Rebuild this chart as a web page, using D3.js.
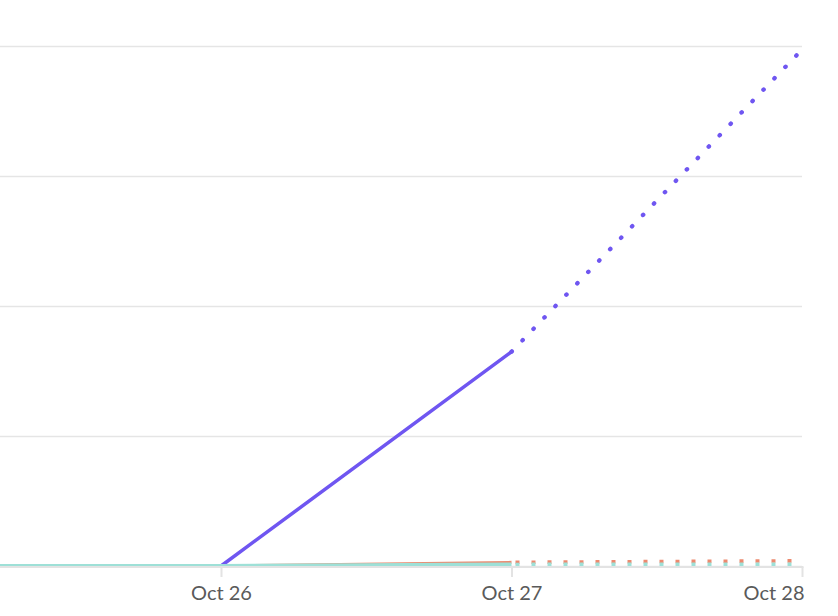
<!DOCTYPE html>
<html>
<head>
<meta charset="utf-8">
<script src="https://cdn.jsdelivr.net/npm/d3@7"></script>
<style>
  body { margin: 0; background: #fff; }
  svg { display: block; }
</style>
</head>
<body>
<div class="canvas"></div>
<script>
// dates on the x axis, the last one is a projection
const dates = ['2023-10-25', '2023-10-26', '2023-10-27', '2023-10-28'];
const lastActual = 2;

// series values (y axis runs 0..100)
const purpleValues = [0, 0, 41.2, 99.3];
const orangeValues = [0, 0, 0.7, 1.0];
const tealValues = [0, 0, 0.3, 0.35];

const yTicks = [0, 25, 50, 75, 100];

const series = [
    { name: 'purple', values: purpleValues, color: '#6f56f1', width: 3.5, dash: '0.5 15.3', cap: 'round', offset: 0 },
    { name: 'orange', values: orangeValues, color: '#ec8a6f', width: 3, dash: '4 12', cap: 'butt', offset: 12 },
    { name: 'teal', values: tealValues, color: '#9ee0d7', width: 4, dash: '4 12', cap: 'butt', offset: 12 }
];

const width = 838;
const height = 616;

const parse = d3.timeParse('%Y-%m-%d');
const days = dates.map(parse);

const canvas = d3.select('.canvas');

const svg = canvas.append('svg')
    .attr('width', width)
    .attr('height', height);

const x = d3.scaleTime()
    .domain([days[1], days[3]])
    .range([221, 802]);

const y = d3.scaleLinear()
    .domain([0, 100])
    .range([566, 46]);

// gridlines
svg.append('g')
    .attr('transform', 'translate(802,0)')
    .call(d3.axisLeft(y).tickValues(yTicks).tickSize(850).tickFormat(''))
    .call(g => g.select('.domain').remove())
    .call(g => g.selectAll('.tick line')
        .attr('stroke', '#e5e5e5')
        .attr('stroke-width', 1.5));

const line = d3.line()
    .x(d => x(d.date))
    .y(d => y(d.value));

// solid parts first, purple at the bottom, teal on top
series.forEach(s => {
    const pts = s.values.map((v, i) => ({ date: days[i], value: v }));
    svg.append('path')
        .datum(pts.slice(0, lastActual + 1))
        .attr('d', line)
        .attr('fill', 'none')
        .attr('stroke', s.color)
        .attr('stroke-width', s.width)
        .attr('stroke-linejoin', 'round');
});

// projected parts, dotted
series.forEach(s => {
    const pts = s.values.map((v, i) => ({ date: days[i], value: v }));
    svg.append('path')
        .datum(pts.slice(lastActual))
        .attr('d', line)
        .attr('fill', 'none')
        .attr('stroke', s.color)
        .attr('stroke-width', s.name == 'purple' ? 4.3 : 3.6)
        .attr('stroke-linecap', s.cap)
        .attr('stroke-dasharray', s.dash)
        .attr('stroke-dashoffset', s.offset);
});

// x axis
const xAxis = svg.append('g')
    .attr('transform', 'translate(0,567)')
    .call(d3.axisBottom(x)
        .tickValues(days.slice(1))
        .tickSize(10)
        .tickFormat(d3.timeFormat('%b %d')));

xAxis.select('.domain').remove();

xAxis.append('line')
    .attr('x1', 0)
    .attr('x2', 803.5)
    .attr('stroke', '#e3e3e3')
    .attr('stroke-width', 2);

xAxis.selectAll('.tick line')
    .attr('stroke', '#e3e3e3')
    .attr('stroke-width', 2);

xAxis.selectAll('.tick text')
    .attr('y', 33)
    .attr('dy', null)
    .attr('fill', '#5a5a5a')
    .attr('font-family', 'Lato, sans-serif')
    .attr('font-size', 20)
    .attr('text-anchor', (d, i) => i == 2 ? 'end' : 'middle')
    .attr('x', (d, i) => i == 2 ? 2 : 0);
</script>
</body>
</html>
